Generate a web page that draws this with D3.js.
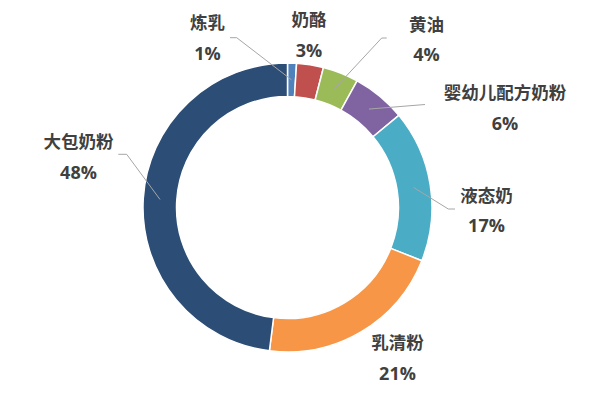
<!DOCTYPE html>
<html>
<head>
<meta charset="utf-8">
<script src="https://cdn.jsdelivr.net/npm/d3@7"></script>
<style>
  body { margin: 0; background: #fff; }
  text { font-family: "Noto Sans CJK SC", "Noto Sans", sans-serif; font-weight: bold; fill: #404040; }
  text.pct { font-family: "Open Sans", "Noto Sans", sans-serif; }
</style>
</head>
<body>
<div id="chart"></div>
<script>
const categories = ['炼乳', '奶酪', '黄油', '婴幼儿配方奶粉', '液态奶', '乳清粉', '大包奶粉'];
const values = [1, 3, 4, 6, 17, 21, 48];
const pctLabels = ['1%', '3%', '4%', '6%', '17%', '21%', '48%'];
const colors = ['#4F81BD', '#C0504D', '#9BBB59', '#8064A2', '#4BACC6', '#F79646', '#2C4D75'];

// label placement (offsets from the ring centre), hand placed like the original
const labelPos = [[-80, -186], [21.5, -189], [139, -184.5], [217.5, -116], [199, -13.5], [110, 134], [-209, -67]];
const leaderEnds = [
  [[-50.8, -169.8], [-57.5, -169.8]],
  null,
  [[94.2, -169.5], [99.2, -169.5]],
  [[137.5, -103]],
  [[160.8, 1.5], [167.5, 1.5]],
  null,
  [[-160.8, -53.2], [-169.2, -53.2]]
];

const width = 600, height = 394;
const cx = 287.5, cy = 207.5;
const outerR = 144.5, innerR = 111;

const svg = d3.select('#chart').append('svg')
  .attr('width', width).attr('height', height);

const g = svg.append('g').attr('transform', 'translate(' + cx + ',' + cy + ')');

const pie = d3.pie().sort(null).value(d => d.value);
const arc = d3.arc().innerRadius(innerR).outerRadius(outerR);

const data = categories.map((c, i) => ({ name: c, value: values[i], i: i }));
const arcs = pie(data);

g.selectAll('.slice')
  .data(arcs)
  .enter()
  .append('path')
  .attr('class', 'slice')
  .attr('d', arc)
  .attr('fill', d => colors[d.data.i])
  .attr('stroke', '#fff')
  .attr('stroke-width', 1.5);

// leader lines
const line = d3.line();
arcs.forEach(d => {
  const ends = leaderEnds[d.data.i];
  if (!ends) return;
  const pts = [arc.centroid(d)].concat(ends);
  g.append('path')
    .attr('d', line(pts))
    .attr('fill', 'none')
    .attr('stroke', '#A6A6A6')
    .attr('stroke-width', 1);
});

// labels
const lab = g.selectAll('.lab')
  .data(arcs)
  .enter()
  .append('g')
  .attr('class', 'lab')
  .attr('transform', d => 'translate(' + labelPos[d.data.i] + ')');
lab.append('text')
  .attr('text-anchor', 'middle')
  .attr('dominant-baseline', 'central')
  .attr('font-size', 17.5)
  .text(d => d.data.name);
lab.append('text')
  .attr('class', 'pct')
  .attr('text-anchor', 'middle')
  .attr('dominant-baseline', 'central')
  .attr('y', 31)
  .attr('font-size', 18)
  .text(d => pctLabels[d.data.i]);
</script>
</body>
</html>
